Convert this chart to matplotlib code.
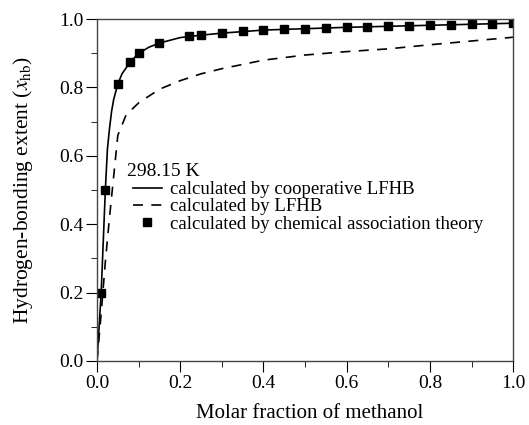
import matplotlib
matplotlib.use("Agg")
import matplotlib.pyplot as plt
from matplotlib.ticker import MultipleLocator, FormatStrFormatter

plt.rcParams["font.family"] = ["Liberation Serif", "DejaVu Serif"]
plt.rcParams["mathtext.fontset"] = "stix"

# cooperative LFHB (solid line)
coop_x = [0.0, 0.005, 0.01, 0.015, 0.02, 0.025, 0.03, 0.035, 0.04, 0.05, 0.06, 0.08, 0.1,
          0.125, 0.15, 0.2, 0.25, 0.3, 0.4, 0.5, 0.6, 0.7, 0.8, 0.9, 1.0]
coop_y = [0.0, 0.10, 0.20, 0.35, 0.50, 0.62, 0.68, 0.73, 0.765, 0.81, 0.84, 0.875, 0.90,
          0.918, 0.93, 0.946, 0.953, 0.959, 0.968, 0.972, 0.976, 0.979, 0.982, 0.985, 0.988]

# LFHB (dashed line)
lfhb_x = [0.0, 0.01, 0.02, 0.03, 0.04, 0.05, 0.07, 0.1, 0.15, 0.2, 0.25, 0.3, 0.4, 0.5,
          0.6, 0.7, 0.8, 0.9, 1.0]
lfhb_y = [0.0, 0.14, 0.29, 0.42, 0.54, 0.66, 0.72, 0.755, 0.795, 0.82, 0.84, 0.855, 0.88,
          0.895, 0.905, 0.913, 0.925, 0.936, 0.947]

# chemical association theory (squares)
cat_x = [0.01, 0.02, 0.05, 0.08, 0.1, 0.15, 0.22, 0.25, 0.3, 0.35, 0.4, 0.45, 0.5, 0.55,
         0.6, 0.65, 0.7, 0.75, 0.8, 0.85, 0.9, 0.95, 1.0]
cat_y = [0.2, 0.5, 0.81, 0.874, 0.90, 0.93, 0.95, 0.953, 0.959, 0.965, 0.968, 0.970, 0.972,
         0.974, 0.976, 0.978, 0.979, 0.981, 0.982, 0.983, 0.985, 0.986, 0.988]

fig = plt.figure(figsize=(5.29, 4.25), dpi=100)
ax = fig.add_axes([0.1834, 0.1506, 0.7866, 0.8044])

ax.plot(coop_x, coop_y, "k-", lw=1.2, label="calculated by cooperative LFHB")
ax.plot(lfhb_x, lfhb_y, "k--", lw=1.2, dashes=(6, 5), label="calculated by LFHB")
ax.plot(cat_x, cat_y, "ks", ms=6, ls="none", label="calculated by chemical association theory")

ax.set_xlim(0, 1.0)
ax.set_ylim(0, 1.0)
ax.xaxis.set_major_locator(MultipleLocator(0.2))
ax.xaxis.set_minor_locator(MultipleLocator(0.1))
ax.yaxis.set_major_locator(MultipleLocator(0.2))
ax.yaxis.set_minor_locator(MultipleLocator(0.1))
ax.xaxis.set_major_formatter(FormatStrFormatter("%.1f"))
ax.yaxis.set_major_formatter(FormatStrFormatter("%.1f"))
ax.tick_params(which="both", direction="out", top=False, right=False, labelsize=14, pad=2)
ax.tick_params(which="major", length=8)
ax.tick_params(which="minor", length=4)
for s in ax.spines.values():
    s.set_linewidth(1.0)
    s.set_color("#444444")

ax.set_xlabel("Molar fraction of methanol", fontsize=15)
ax.xaxis.set_label_coords(0.51, -0.125)
ax.set_ylabel(r"Hydrogen-bonding extent ($x_{\rm hb}$)", fontsize=15.5, labelpad=17)

ax.text(0.072, 0.555, "298.15 K", transform=ax.transAxes, fontsize=14, va="center", ha="left")
leg = ax.legend(loc="upper left", bbox_to_anchor=(0.077, 0.537), frameon=False, fontsize=13.5,
                handlelength=1.55, handletextpad=0.45, labelspacing=0.0, borderpad=0.2,
                borderaxespad=0)

fig.savefig("out.png", dpi=100)
